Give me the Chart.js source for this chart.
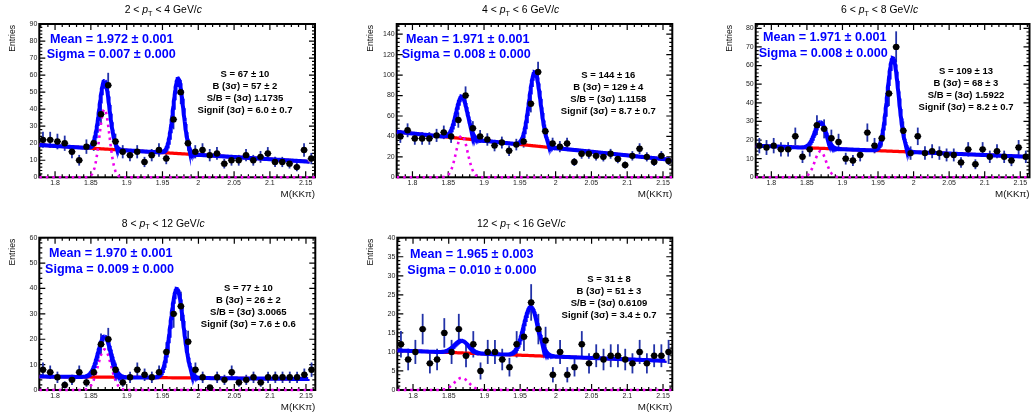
<!DOCTYPE html>
<html>
<head>
<meta charset="utf-8">
<script src="https://cdn.jsdelivr.net/npm/chart.js@4.4.1/dist/chart.umd.min.js"></script>
<style>
  body { margin: 0; background: #fff; }
  #wrap { position: relative; width: 1031px; height: 414px; overflow: hidden; background: #fff; }
  canvas { position: absolute; }
</style>
</head>
<body>
<div id="wrap"></div>
<script>
// bin centres of the M(KKpi) histogram
const binCenters = [1.7831, 1.7932, 1.8033, 1.8135, 1.8236, 1.8337, 1.8438, 1.8540, 1.8641, 1.8742,
                    1.8844, 1.8945, 1.9046, 1.9147, 1.9249, 1.9350, 1.9451, 1.9553, 1.9654, 1.9755,
                    1.9856, 1.9958, 2.0059, 2.0160, 2.0261, 2.0363, 2.0464, 2.0565, 2.0667, 2.0768,
                    2.0869, 2.0971, 2.1072, 2.1173, 2.1274, 2.1376, 2.1477, 2.1578];
const binWidth = 0.0101;
const xMin = 1.778, xMax = 2.163;

const ptLow = [2, 4, 6, 8, 12];
const ptHigh = [4, 6, 8, 12, 16];

const counts2to4 = [22, 22, 21, 20, 15, 10, 18, 20, 37, 54, 21, 15, 13, 15, 9, 13, 16, 11, 34, 50,
                    20, 15, 16, 13, 14, 8, 10, 10, 13, 10, 12, 14, 9, 9, 8, 6, 16, 11];
const counts4to6 = [40, 46, 38, 38, 38, 41, 44, 40, 56, 80, 48, 40, 37, 31, 34, 26, 32, 35, 72, 103,
                    45, 33, 30, 33, 15, 23, 23, 21, 20, 23, 18, 12, 21, 28, 20, 15, 21, 16];
const counts6to8 = [17, 16, 17, 15, 15, 22, 11, 15, 28, 26, 21, 19, 10, 9, 12, 24, 17, 21, 45, 70,
                    25, 13, 22, 13, 14, 13, 12, 12, 8, 15, 7, 15, 11, 14, 11, 9, 16, 11];
const counts8to12 = [8, 7, 5, 2, 4, 7, 3, 7, 18, 20, 8, 3, 5, 8, 6, 5, 7, 15, 30, 33,
                     19, 8, 5, 1, 5, 4, 7, 3, 4, 5, 3, 5, 5, 5, 5, 5, 6, 8];
const counts12to16 = [12, 8, 10, 16, 7, 8, 15, 10, 16, 9, 12, 5, 10, 10, 8, 6, 12, 14, 23, 16,
                      13, 4, 10, 4, 6, 12, 7, 9, 8, 9, 9, 8, 7, 10, 7, 9, 9, 10];

// fit results (Ds peak, D+ peak, linear background)
const fitMean = [1.972, 1.971, 1.971, 1.970, 1.965];
const fitMeanErr = ['0.001', '0.001', '0.001', '0.001', '0.003'];
const fitSigma = [0.007, 0.008, 0.008, 0.009, 0.010];
const fitSigmaErr = ['0.000', '0.000', '0.000', '0.000', '0.000'];
const peakHeight = [44, 72, 50, 35, 12.8];
const dplusMean = [1.869, 1.869, 1.869, 1.869, 1.868];
const dplusHeight = [40, 41, 14, 16, 3.2];
const bkgLeft = [19, 44.5, 17, 5.3, 10.4];
const bkgRight = [9, 17, 11, 4.3, 7.6];
const fitEnd = [2.153, 2.16, 2.155, 2.153, 2.153];

const signalS = [67, 144, 109, 77, 31];
const signalSErr = [10, 16, 13, 10, 8];
const bkg3s = [57, 129, 68, 26, 51];
const bkg3sErr = [2, 4, 3, 2, 3];
const sOverB = ['1.1735', '1.1158', '1.5922', '3.0065', '0.6109'];
const signif = ['6.0', '8.7', '8.2', '7.6', '3.4'];
const signifErr = ['0.7', '0.7', '0.7', '0.6', '0.7'];

const xTickValues = [1.8, 1.85, 1.9, 1.95, 2.0, 2.05, 2.1, 2.15];
const xTickLabels = ['1.8', '1.85', '1.9', '1.95', '2', '2.05', '2.1', '2.15'];
const yTicks2to4 = [0, 10, 20, 30, 40, 50, 60, 70, 80, 90];
const yTicks4to6 = [0, 20, 40, 60, 80, 100, 120, 140];
const yTicks6to8 = [0, 10, 20, 30, 40, 50, 60, 70, 80];
const yTicks8to12 = [0, 10, 20, 30, 40, 50, 60];
const yTicks12to16 = [0, 5, 10, 15, 20, 25, 30, 35, 40];
const yMax = [90, 150, 82.3, 60, 40];

const panels = [
  { counts: counts2to4, yTicks: yTicks2to4 },
  { counts: counts4to6, yTicks: yTicks4to6 },
  { counts: counts6to8, yTicks: yTicks6to8 },
  { counts: counts8to12, yTicks: yTicks8to12 },
  { counts: counts12to16, yTicks: yTicks12to16 }
];

// layout: pads and frames in page pixels
const padBox = [[0, 0, 343, 207], [343, 0, 344, 207], [687, 0, 344, 207], [0, 207, 343, 207], [343, 207, 344, 207]];
const frameBox = [[39.3, 24, 315, 177.3], [396.7, 24, 672.3, 177.3], [755.7, 24, 1029.5, 177.3],
                  [39.3, 237.7, 315.3, 390], [397.3, 237.7, 672.3, 390]];
const meanPos = [[10.7, 15.3, 7.4, 31], [9.3, 15.3, 5, 31], [7.3, 13.3, 3, 29.3], [9.7, 16.3, 5.7, 32.3], [12.7, 16.6, 10, 33]];
const statsPos = [[205.7, 50], [211.6, 51], [210.3, 47.7], [209, 50.6], [211.7, 42]];

const FONT = '"Liberation Sans", Arial, Helvetica, sans-serif';
const PM = ' \u00b1 ';

const gauss = (x, m, s) => Math.exp(-0.5 * ((x - m) / s) ** 2);

function curve(from, to, f) {
  const pts = [];
  for (let x = from; x <= to + 1e-9; x += 0.0005) pts.push({ x: x, y: f(x) });
  return pts;
}

function drawTitle(ctx, cx, cy, lo, hi) {
  const size = 10.4;
  const parts = [
    [lo + ' < ', size + 'px ' + FONT, 0],
    ['p', 'italic ' + size + 'px ' + FONT, 0],
    ['T', (size * 0.7) + 'px ' + FONT, 3],
    [' < ' + hi + ' GeV/', size + 'px ' + FONT, 0],
    ['c', 'italic ' + size + 'px ' + FONT, 0]
  ];
  let total = 0;
  parts.forEach(p => { ctx.font = p[1]; total += ctx.measureText(p[0]).width; });
  let x = cx - total / 2;
  ctx.textAlign = 'left';
  ctx.textBaseline = 'middle';
  ctx.fillStyle = '#000';
  parts.forEach(p => {
    ctx.font = p[1];
    ctx.fillText(p[0], x, cy + p[2]);
    x += ctx.measureText(p[0]).width;
  });
}

function rootPlugin(k) {
  const yStep = panels[k].yTicks[1] - panels[k].yTicks[0];
  return {
    id: 'rootStyle' + k,
    beforeDatasetsDraw(chart) {
      const ctx = chart.ctx, a = chart.chartArea;
      const xs = chart.scales.x, ys = chart.scales.y;
      ctx.save();
      // frame with inward ticks on all four sides
      ctx.strokeStyle = '#000';
      ctx.lineWidth = 1.2;
      ctx.beginPath();
      for (let v = 1.78; v < xMax; v += 0.01) {
        const major = xTickValues.some(t => Math.abs(t - v) < 1e-6);
        const len = major ? 6 : 3;
        const px = xs.getPixelForValue(v);
        ctx.moveTo(px, a.bottom); ctx.lineTo(px, a.bottom - len);
        ctx.moveTo(px, a.top); ctx.lineTo(px, a.top + len);
      }
      for (let v = 0; v <= yMax[k] + 1e-6; v += yStep / 5) {
        const major = Math.abs(v / yStep - Math.round(v / yStep)) < 1e-6;
        const len = major ? 6 : 3;
        const py = ys.getPixelForValue(v);
        ctx.moveTo(a.left, py); ctx.lineTo(a.left + len, py);
        ctx.moveTo(a.right, py); ctx.lineTo(a.right - len, py);
      }
      ctx.stroke();
      ctx.lineWidth = 2;
      ctx.strokeRect(a.left, a.top, a.right - a.left, a.bottom - a.top);

      // error bars under the fit curves
      panels[k].counts.forEach((n, i) => {
        const x = binCenters[i], e = Math.sqrt(n);
        const px = xs.getPixelForValue(x), py = ys.getPixelForValue(n);
        ctx.strokeStyle = '#2232a8';
        ctx.lineWidth = 1.8;
        ctx.beginPath();
        ctx.moveTo(px, ys.getPixelForValue(n - e));
        ctx.lineTo(px, ys.getPixelForValue(n + e));
        ctx.stroke();
        ctx.strokeStyle = '#151530';
        ctx.lineWidth = 1;
        ctx.beginPath();
        ctx.moveTo(xs.getPixelForValue(x - binWidth / 2), py);
        ctx.lineTo(xs.getPixelForValue(x + binWidth / 2), py);
        ctx.stroke();
      });
      ctx.restore();
    },
    afterDraw(chart) {
      const ctx = chart.ctx, a = chart.chartArea;
      ctx.save();
      drawTitle(ctx, a.left + 124, a.top - 13.5, ptLow[k], ptHigh[k]);

      ctx.fillStyle = '#111';
      ctx.font = '8.6px ' + FONT;
      ctx.save();
      ctx.translate(a.left - 26.5, a.top + 1);
      ctx.rotate(-Math.PI / 2);
      ctx.textAlign = 'right';
      ctx.textBaseline = 'middle';
      ctx.fillText('Entries', 0, 0);
      ctx.restore();

      ctx.font = '9.8px ' + FONT;
      ctx.textAlign = 'right';
      ctx.textBaseline = 'middle';
      ctx.fillText('M(KK\u03c0)', a.right, a.bottom + 17);

      const mp = meanPos[k];
      ctx.fillStyle = '#0000ff';
      ctx.font = 'bold 12.6px ' + FONT;
      ctx.textAlign = 'left';
      ctx.fillText('Mean = ' + fitMean[k].toFixed(3) + PM + fitMeanErr[k], a.left + mp[0], a.top + mp[1]);
      ctx.fillText('Sigma = ' + fitSigma[k].toFixed(3) + PM + fitSigmaErr[k], a.left + mp[2], a.top + mp[3]);

      const sp = statsPos[k];
      const lines = [
        'S = ' + signalS[k] + PM + signalSErr[k],
        'B (3\u03c3) = ' + bkg3s[k] + PM + bkg3sErr[k],
        'S/B = (3\u03c3) ' + sOverB[k],
        'Signif (3\u03c3) = ' + signif[k] + PM + signifErr[k]
      ];
      ctx.fillStyle = '#000';
      ctx.font = 'bold 9.5px ' + FONT;
      ctx.textAlign = 'center';
      lines.forEach((t, i) => ctx.fillText(t, a.left + sp[0], a.top + sp[1] + i * 12));
      ctx.restore();
    }
  };
}

const wrap = document.getElementById('wrap');

panels.forEach((p, k) => {
  const [px, py, pw, ph] = padBox[k];
  const [fl, ft, fr, fb] = frameBox[k];
  const cv = document.createElement('canvas');
  cv.width = pw; cv.height = ph;
  cv.style.left = px + 'px'; cv.style.top = py + 'px';
  cv.style.width = pw + 'px'; cv.style.height = ph + 'px';
  wrap.appendChild(cv);

  const bkg = x => bkgLeft[k] + (bkgRight[k] - bkgLeft[k]) * (x - xMin) / (xMax - xMin);
  const dplus = x => dplusHeight[k] * gauss(x, dplusMean[k], fitSigma[k]);
  const ds = x => peakHeight[k] * gauss(x, fitMean[k], fitSigma[k]);

  new Chart(cv, {
    type: 'scatter',
    data: {
      datasets: [
        {
          label: 'data',
          data: p.counts.map((n, i) => ({ x: binCenters[i], y: n })),
          pointRadius: 3.2,
          pointBackgroundColor: '#000',
          pointBorderWidth: 0,
          order: 0
        },
        {
          label: 'total fit',
          data: curve(xMin, fitEnd[k], x => bkg(x) + dplus(x) + ds(x)),
          showLine: true, pointRadius: 0,
          borderColor: '#0000ff', borderWidth: 4,
          order: 1
        },
        {
          label: 'D+ peak',
          data: curve(xMin, xMax, dplus),
          showLine: true, pointRadius: 0,
          borderColor: '#ee00ee', borderWidth: 2.6, borderDash: [2.5, 4],
          clip: { left: 0, right: 0, top: 0, bottom: 5 },
          order: 2
        },
        {
          label: 'background',
          data: curve(xMin, fitEnd[k], bkg),
          showLine: true, pointRadius: 0,
          borderColor: '#ff0000', borderWidth: 3.2,
          order: 3
        }
      ]
    },
    options: {
      responsive: false,
      devicePixelRatio: 1,
      animation: false,
      events: [],
      layout: { autoPadding: false, padding: { left: 0, top: ft - py, right: px + pw - fr, bottom: 0 } },
      plugins: { legend: { display: false }, tooltip: { enabled: false } },
      scales: {
        x: {
          type: 'linear', min: xMin, max: xMax,
          afterBuildTicks: s => { s.ticks = xTickValues.map(v => ({ value: v })); },
          afterFit: s => { s.height = py + ph - fb; },
          grid: { display: false, drawTicks: false },
          border: { display: false },
          ticks: {
            callback: (v, i) => xTickLabels[i],
            autoSkip: false, maxRotation: 0, padding: 1.5,
            color: '#222', font: { family: FONT, size: 7 }
          }
        },
        y: {
          type: 'linear', min: 0, max: yMax[k],
          afterBuildTicks: s => { s.ticks = p.yTicks.map(v => ({ value: v })); },
          afterFit: s => { s.width = fl - px; },
          grid: { display: false, drawTicks: false },
          border: { display: false },
          ticks: {
            callback: v => String(v),
            autoSkip: false, padding: 2,
            color: '#222', font: { family: FONT, size: 7 }
          }
        }
      }
    },
    plugins: [rootPlugin(k)]
  });
});
</script>
</body>
</html>
